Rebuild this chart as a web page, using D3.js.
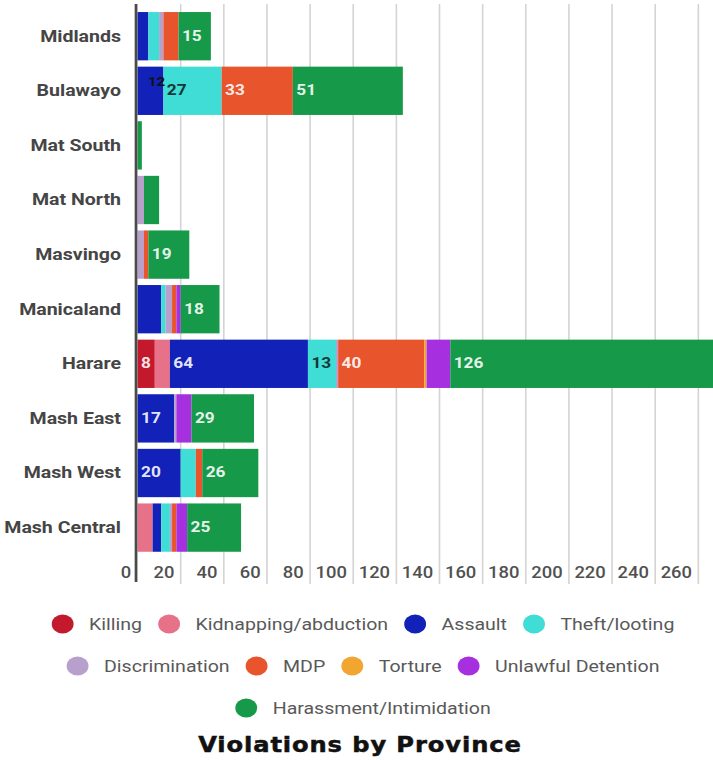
<!DOCTYPE html>
<html>
<head>
<meta charset="utf-8">
<script src="https://cdn.jsdelivr.net/npm/d3@7/dist/d3.min.js"></script>
<style>
  html, body { margin: 0; padding: 0; background: #fff; }
  svg { display: block; }
</style>
</head>
<body>
<svg id="chart" width="713" height="760"></svg>
<script>
// Provinces, top to bottom
const provinces = ["Midlands", "Bulawayo", "Mat South", "Mat North", "Masvingo",
                   "Manicaland", "Harare", "Mash East", "Mash West", "Mash Central"];

// Violation types, in stacking / legend order
const seriesNames = ["Killing", "Kidnapping/abduction", "Assault", "Theft/looting",
                     "Discrimination", "MDP", "Torture", "Unlawful Detention",
                     "Harassment/Intimidation"];

// Counts per province (same order as provinces)
const killing        = [0,  0, 0, 0, 0,  0,   8,  0,  0,  0];
const kidnapping     = [0,  0, 0, 0, 0,  0,   7,  0,  0,  7];
const assault        = [5, 12, 0, 0, 0, 11,  64, 17, 20,  4];
const theft          = [5, 27, 0, 0, 0,  2,  13,  0,  7,  4];
const discrimination = [2,  0, 0, 3, 3,  3,   1,  1,  0,  1];
const mdp            = [7, 33, 0, 0, 2,  2,  40,  0,  3,  2];
const torture        = [0,  0, 0, 0, 0,  0,   1,  0,  0,  0];
const unlawful       = [0,  0, 0, 0, 0,  2,  11,  7,  0,  5];
const harassment     = [15, 51, 2, 7, 19, 18, 126, 29, 26, 25];

const seriesValues = [killing, kidnapping, assault, theft, discrimination,
                      mdp, torture, unlawful, harassment];

const seriesColors = ["#c4182c", "#e8718a", "#1222b8", "#40dcd6", "#b8a0cc",
                      "#e8542c", "#f2a531", "#a62fe0", "#17994a"];

const xTicks = [0, 20, 40, 60, 80, 100, 120, 140, 160, 180, 200, 220, 240, 260];

// Legend rows (indices into seriesNames)
const legendRows = [[0, 1, 2, 3], [4, 5, 6, 7], [8]];

// ---------------------------------------------------------------------------
const W = 713, H = 760;
const SX = 1.15;                 // the whole drawing is widened horizontally
const innerW = W / SX;

const svg = d3.select("#chart");
svg.append("rect").attr("width", W).attr("height", H).attr("fill", "#fff");
const root = svg.append("g").attr("transform", `scale(${SX},1)`);

const rows = provinces.map((p, i) => {
  const r = { province: p };
  seriesNames.forEach((s, k) => { r[s] = seriesValues[k][i]; });
  return r;
});
const stacked = d3.stack().keys(seriesNames)(rows);

const x = d3.scaleLinear().domain([0, 266.8]).range([119.6, innerW]);
const y = d3.scaleBand().domain(provinces)
  .range([8.9, 554.9]).paddingInner(0.115).paddingOuter(0.0575);
const color = d3.scaleOrdinal().domain(seriesNames).range(seriesColors);

// vertical grid lines
root.append("g").selectAll("line")
  .data(xTicks.filter(v => v > 0))
  .join("line")
  .attr("x1", d => x(d)).attr("x2", d => x(d))
  .attr("y1", 4).attr("y2", 584)
  .attr("stroke", "#d4d4d4").attr("stroke-width", 1.4);

// stacked bars
const layer = root.append("g").selectAll("g")
  .data(stacked)
  .join("g")
  .attr("fill", d => color(d.key));

layer.selectAll("rect")
  .data(d => d.filter(s => s[1] > s[0]))
  .join("rect")
  .attr("x", d => x(d[0]))
  .attr("width", d => x(d[1]) - x(d[0]))
  .attr("y", d => y(d.data.province))
  .attr("height", y.bandwidth());

// value labels on the segments
const labelNudge = { "Bulawayo|Assault": { dx: 6, dy: -8, fill: "#111", size: 13 } };
const labels = [];
stacked.forEach(ser => {
  ser.forEach(s => {
    const v = s[1] - s[0];
    const minV = ser.key === "Killing" ? 8 : 12;
    if (v >= minV) labels.push({ key: ser.key, province: s.data.province, v, x0: s[0] });
  });
});
const nudge = d => labelNudge[d.province + "|" + d.key] || {};

root.append("g").selectAll("text")
  .data(labels)
  .join("text")
  .attr("x", d => x(d.x0) + 3 + (nudge(d).dx || 0))
  .attr("y", d => y(d.province) + y.bandwidth() / 2 - 1 + (nudge(d).dy || 0))
  .attr("dy", "0.36em")
  .attr("font-family", "Roboto, 'Noto Sans', sans-serif")
  .attr("font-weight", "bold")
  .attr("font-size", d => nudge(d).size || 15)
  .attr("fill", d => {
    if (nudge(d).fill) return nudge(d).fill;
    return d.key === "Theft/looting" ? "#163838" : "rgba(255,255,255,0.9)";
  })
  .text(d => d.v);

// zero line
root.append("line")
  .attr("x1", x(0) - 1.3).attr("x2", x(0) - 1.3)
  .attr("y1", 4).attr("y2", 582)
  .attr("stroke", "#4a4a4a").attr("stroke-width", 2.4);

// province axis
const yAxis = root.append("g")
  .attr("transform", `translate(${x(0)},0)`)
  .call(d3.axisLeft(y).tickSize(0).tickPadding(14.4));
yAxis.select(".domain").remove();
yAxis.selectAll("text")
  .attr("font-family", "Roboto, 'Noto Sans', sans-serif")
  .attr("font-weight", "bold")
  .attr("font-size", 17)
  .attr("fill", "#454545");

// value axis labels (set just left of each grid line)
const xAxis = root.append("g")
  .attr("transform", `translate(0,566.6)`)
  .call(d3.axisBottom(x).tickValues(xTicks).tickSize(0).tickPadding(0));
xAxis.select(".domain").remove();
xAxis.selectAll("text")
  .attr("text-anchor", "end")
  .attr("x", -6)
  .attr("y", 0)
  .attr("font-family", "Roboto, 'Noto Sans', sans-serif")
  .attr("font-weight", 500)
  .attr("font-size", 16)
  .attr("fill", "#505050");

// legend
const legend = root.append("g");
const legendY = [624, 666, 708];
const R = 9.5, TXT = 23, GAP = 14, CX = 315.7;
legendRows.forEach((row, ri) => {
  const g = legend.append("g");
  const items = row.map(k => {
    const t = g.append("text")
      .attr("font-family", "Roboto, 'Noto Sans', sans-serif")
      .attr("font-size", 17)
      .attr("fill", "#595959")
      .attr("dy", "0.35em")
      .attr("y", legendY[ri])
      .text(seriesNames[k]);
    const c = g.append("circle")
      .attr("r", R).attr("cy", legendY[ri])
      .attr("fill", seriesColors[k]);
    return { t, c, w: R + TXT + t.node().getComputedTextLength() };
  });
  const total = d3.sum(items, d => d.w) + GAP * (items.length - 1);
  let cur = CX - total / 2;
  items.forEach(it => {
    it.c.attr("cx", cur + R);
    it.t.attr("x", cur + R + TXT);
    cur += it.w + GAP;
  });
});

// title
root.append("text")
  .attr("x", 313).attr("y", 752)
  .attr("text-anchor", "middle")
  .attr("font-family", "'DejaVu Sans', sans-serif")
  .attr("font-weight", "bold")
  .attr("font-size", 21)
  .attr("letter-spacing", 0.8)
  .attr("fill", "#111")
  .attr("stroke", "#111")
  .attr("stroke-width", 0.5)
  .text("Violations by Province");
</script>
</body>
</html>
